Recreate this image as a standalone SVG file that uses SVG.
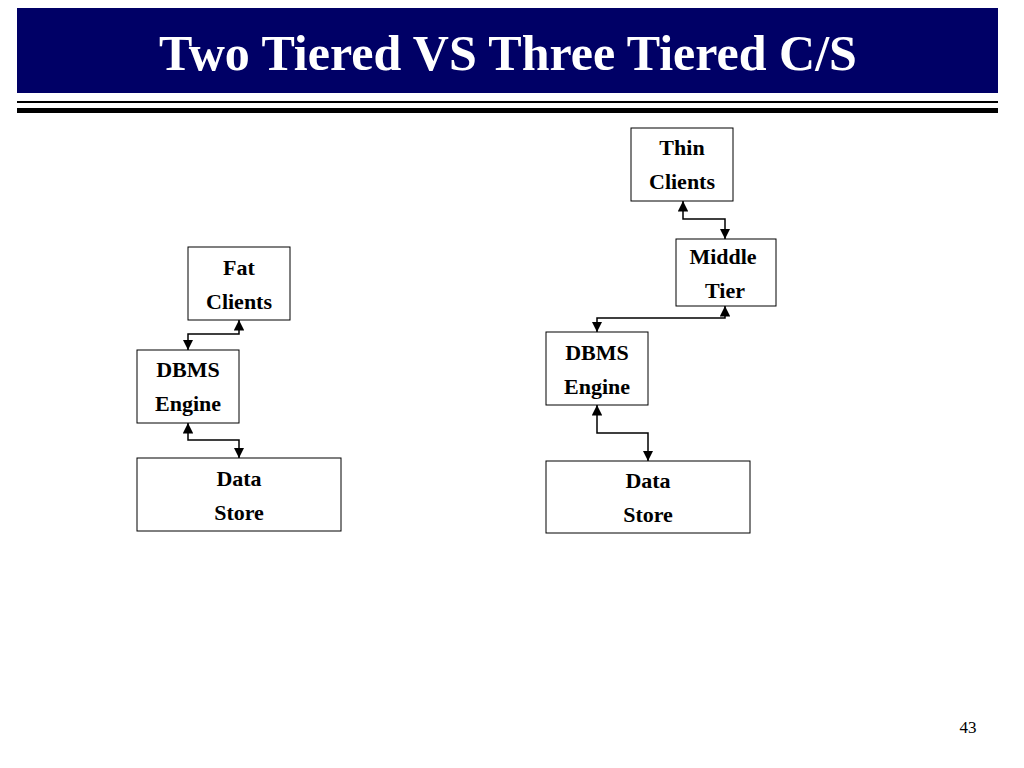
<svg xmlns="http://www.w3.org/2000/svg" width="1024" height="768" viewBox="0 0 1024 768">
<style>
.box{fill:#fff;stroke:#000;stroke-width:1}
.t{font-family:"Liberation Serif",serif;font-weight:bold;font-size:22px;text-anchor:middle}
.c{fill:none;stroke:#000;stroke-width:1.5}
</style>
<defs><marker id="a" viewBox="0 0 10 10" refX="10" refY="5" markerWidth="7" markerHeight="7" orient="auto-start-reverse"><path d="M0,0L10,5L0,10Z"/></marker></defs>
<rect width="1024" height="768" fill="#fff"/>
<rect x="17" y="8" width="981" height="85" fill="#000066"/>
<text x="508" y="70" font-family="Liberation Serif,serif" font-weight="bold" font-size="50" fill="#fff" text-anchor="middle">Two Tiered VS Three Tiered C/S</text>
<rect x="17" y="101" width="981" height="2" fill="#000"/>
<rect x="17" y="108" width="981" height="5" fill="#000"/>
<g id="connectors">
<path class="c" d="M239,320V334H188V350" marker-start="url(#a)" marker-end="url(#a)"/>
<path class="c" d="M188,423V440H239V458" marker-start="url(#a)" marker-end="url(#a)"/>
<path class="c" d="M683,201V219H725V239" marker-start="url(#a)" marker-end="url(#a)"/>
<path class="c" d="M725,306V318H597V332" marker-start="url(#a)" marker-end="url(#a)"/>
<path class="c" d="M597,405V433H648V461" marker-start="url(#a)" marker-end="url(#a)"/>
</g>
<g id="fat"><rect class="box" x="188" y="247" width="102" height="73"/><text class="t" x="239" y="275">Fat</text><text class="t" x="239" y="309">Clients</text></g>
<g id="dbms1"><rect class="box" x="137" y="350" width="102" height="73"/><text class="t" x="188" y="377">DBMS</text><text class="t" x="188" y="411">Engine</text></g>
<g id="data1"><rect class="box" x="137" y="458" width="204" height="73"/><text class="t" x="239" y="486">Data</text><text class="t" x="239" y="520">Store</text></g>
<g id="thin"><rect class="box" x="631" y="128" width="102" height="73"/><text class="t" x="682" y="155">Thin</text><text class="t" x="682" y="189">Clients</text></g>
<g id="middle"><rect class="box" x="676" y="239" width="100" height="67"/><text class="t" x="723" y="264">Middle</text><text class="t" x="725" y="298">Tier</text></g>
<g id="dbms2"><rect class="box" x="546" y="332" width="102" height="73"/><text class="t" x="597" y="360">DBMS</text><text class="t" x="597" y="394">Engine</text></g>
<g id="data2"><rect class="box" x="546" y="461" width="204" height="72"/><text class="t" x="648" y="488">Data</text><text class="t" x="648" y="522">Store</text></g>
<text x="968" y="733" font-family="Liberation Serif,serif" font-size="17" text-anchor="middle">43</text>
</svg>
